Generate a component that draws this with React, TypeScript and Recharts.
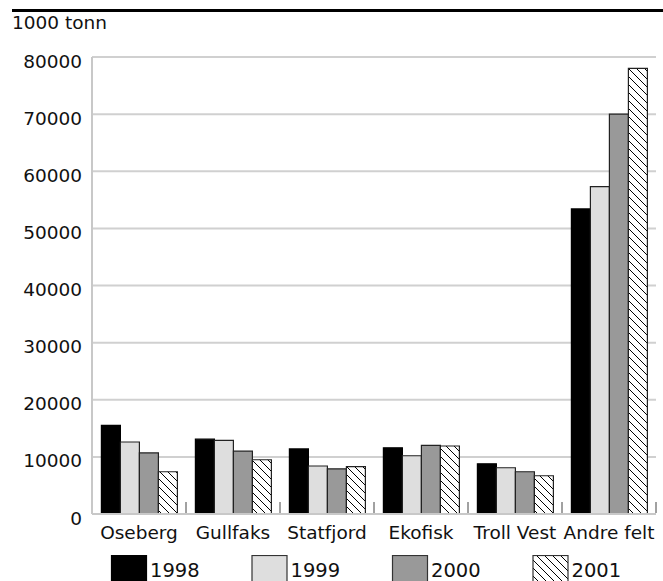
import { Bar, BarChart, CartesianGrid, XAxis, YAxis } from "recharts";

// Produksjon per felt, 1000 tonn
const fields = ["Oseberg", "Gullfaks", "Statfjord", "Ekofisk", "Troll Vest", "Andre felt"];
const y1998 = [15500, 13100, 11400, 11600, 8800, 53400];
const y1999 = [12600, 12900, 8400, 10200, 8100, 57300];
const y2000 = [10700, 11000, 7900, 12000, 7400, 70000];
const y2001 = [7400, 9500, 8300, 11900, 6700, 78000];
const yTicks = [0, 10000, 20000, 30000, 40000, 50000, 60000, 70000, 80000];
const years = ["1998", "1999", "2000", "2001"];

const data = fields.map((name, i) => ({
  name,
  "1998": y1998[i],
  "1999": y1999[i],
  "2000": y2000[i],
  "2001": y2001[i],
}));

const FONT = "'DejaVu Sans', sans-serif";
const W = 655;
const H = 539;
const MARGIN = { top: 49, right: 7, bottom: 0, left: 0 };
const Y_W = 84;
const HALF_BAND = (W - MARGIN.left - MARGIN.right - Y_W) / fields.length / 2;

const fills: Record<string, string> = {
  "1998": "#000000",
  "1999": "#dedede",
  "2000": "#999999",
  "2001": "url(#hatch)",
};

const YTick = ({ x, y, payload }: any) => (
  <text x={x} y={y + 10.5} textAnchor="end" fontSize={18.5} fontFamily={FONT} fill="#111">
    {payload.value}
  </text>
);

const XTick = ({ x, y, payload }: any) => (
  <g>
    <line x1={x + HALF_BAND} x2={x + HALF_BAND} y1={y - 12} y2={y - 1} stroke="#444" strokeWidth={1} />
    <text x={x} y={y + 25} textAnchor="middle" fontSize={18.5} fontFamily={FONT} fill="#111">
      {payload.value}
    </text>
  </g>
);

const HatchDef = ({ id }: { id: string }) => (
  <defs>
    <pattern id={id} patternUnits="userSpaceOnUse" width={8} height={8}>
      <rect width={8} height={8} fill="#fff" />
      <path d="M0,0 L8,8 M-2,6 L2,10 M6,-2 L10,2" stroke="#000" strokeWidth={1} />
    </pattern>
  </defs>
);

export default function App() {
  return (
    <div style={{ width: W, background: "#fff", fontFamily: FONT }}>
      <svg width={W} height={H} style={{ display: "block", position: "absolute", left: 8, top: 8 }}>
        <rect x={4} y={1} width={651} height={3} fill="#000" />
        <text x={4} y={21.3} fontSize={18.5} fontFamily={FONT} fill="#111">
          1000 tonn
        </text>
      </svg>
      <div style={{ position: "absolute", left: 8, top: 8 }}>
        <BarChart width={W} height={H} data={data} margin={MARGIN} barCategoryGap="10%" barGap={0}>
          <HatchDef id="hatch" />
          <CartesianGrid vertical={false} stroke="#d0d0d0" strokeWidth={2} />
          <XAxis
            dataKey="name"
            interval={0}
            height={H - MARGIN.top - 457}
            tickSize={0}
            tickMargin={0}
            tickLine={false}
            axisLine={{ stroke: "#c8c8c8", strokeWidth: 2 }}
            tick={<XTick />}
          />
          <YAxis
            width={Y_W}
            domain={[0, 80000]}
            ticks={yTicks}
            tickSize={0}
            tickMargin={10}
            tickLine={false}
            axisLine={{ stroke: "#c8c8c8", strokeWidth: 2 }}
            tick={<YTick />}
          />
          {years.map((yr) => (
            <Bar
              key={yr}
              dataKey={yr}
              fill={fills[yr]}
              stroke={yr === "1998" ? "#000" : "#222"}
              strokeWidth={1.2}
              isAnimationActive={false}
            />
          ))}
        </BarChart>
      </div>
      <svg width={W} height={26} style={{ display: "block", position: "absolute", left: 8, top: 555 }}>
        <HatchDef id="hatch-legend" />
        {years.map((yr, i) => {
          const x = 103.5 + i * 140.5;
          const fill = yr === "2001" ? "url(#hatch-legend)" : fills[yr];
          return (
            <g key={yr}>
              <rect x={x} y={0.5} width={35} height={32} fill={fill} stroke={yr === "1998" ? "#000" : "#333"} strokeWidth={1.2} />
              <text x={x + 38.5} y={21.5} fontSize={19.5} fontFamily={FONT} fill="#111">
                {yr}
              </text>
            </g>
          );
        })}
      </svg>
    </div>
  );
}
